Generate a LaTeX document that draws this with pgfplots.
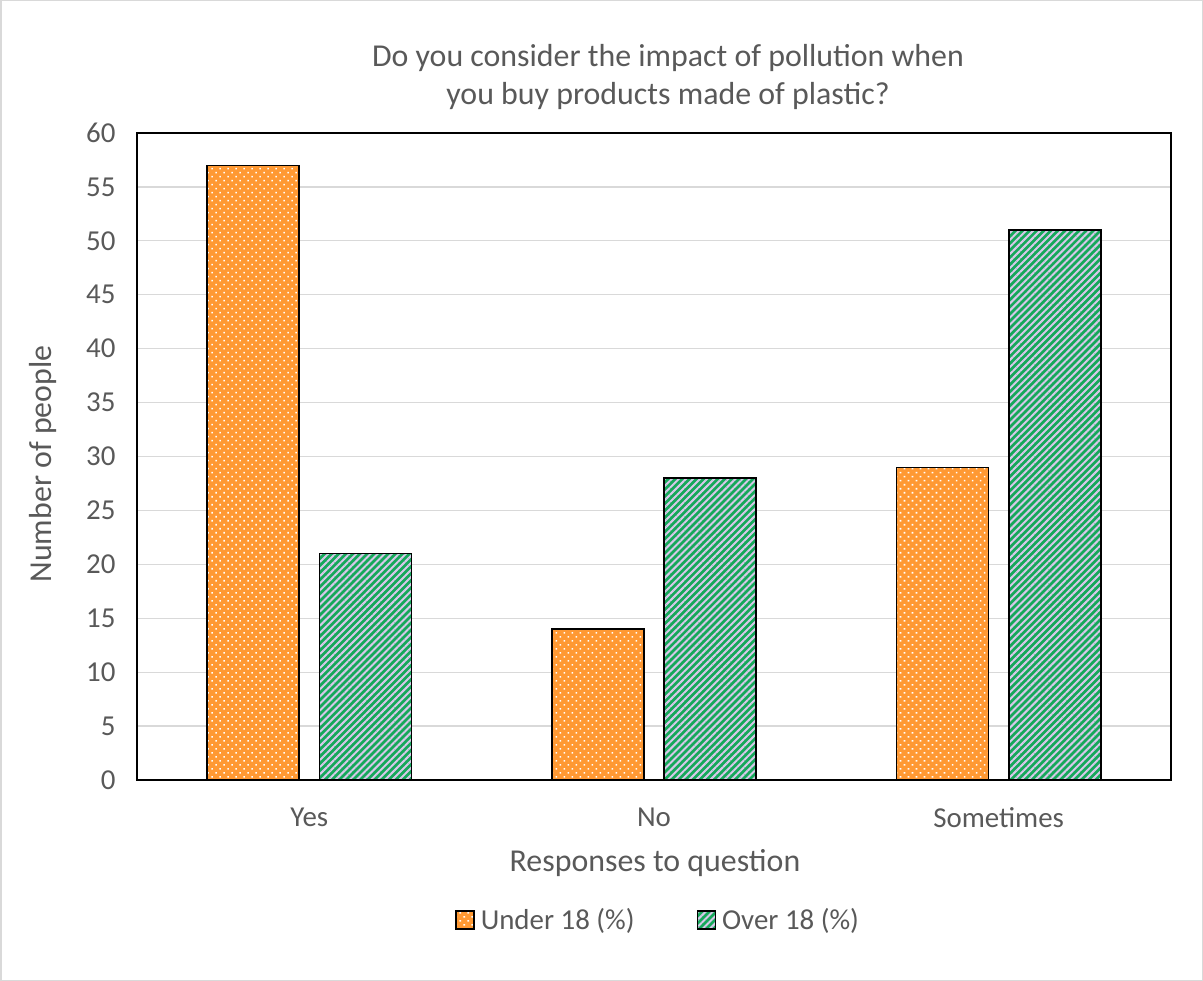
\documentclass[border=0pt]{standalone}
\usepackage{fontspec}
\setmainfont{Carlito}
\usepackage{pgfplots}
\pgfplotsset{compat=1.18}
\usetikzlibrary{patterns.meta}
\definecolor{txt}{HTML}{595959}
\definecolor{orng}{HTML}{FF9933}
\definecolor{grn}{HTML}{16A85A}
\definecolor{lav}{HTML}{D8C8EA}
\definecolor{grd}{HTML}{D9D9D9}
\begin{document}
\begin{tikzpicture}
\useasboundingbox (0,0) rectangle (1203bp,981bp);
\draw[grd, line width=1.5bp] (0.75bp,0.75bp) rectangle (1202.25bp,980.25bp);
\begin{axis}[
  at={(137bp,201bp)}, anchor=south west,
  scale only axis, width=1034bp, height=647bp,
  xmin=-0.5, xmax=2.5, ymin=0, ymax=60,
  ytick={0,5,...,60},
  xtick={0,1,2}, xticklabels={Yes,No,Sometimes},
  major tick length=0pt,
  ymajorgrids, grid style={grd, line width=1.2bp},
  axis line style={black, line width=1.2bp},
  tick label style={font=\fontsize{29}{34}\selectfont, text=txt},
  yticklabel style={xshift=-18bp},
  xticklabel style={yshift=-24bp},
  /pgf/number format/assume math mode=true,
  ybar, bar width=0.267,
  legend columns=2,
  legend style={at={(0.504,-0.216)}, anchor=center, draw=none, fill=none,
    font=\fontsize{29}{34}\selectfont, text=txt,
    /tikz/every odd column/.append style={column sep=4bp},
    /tikz/every even column/.append style={column sep=60bp}},
  legend image code/.code={\draw[#1] (0bp,-9bp) rectangle (18bp,9bp);},
]
\addplot[fill=orng, draw=black, line width=1.5bp, bar shift=-0.163,
  postaction={pattern={Dots[radius=1.1bp, distance=5.66bp, angle=45]}, pattern color=white}]
  coordinates {(0,57) (1,14) (2,29)};
\addlegendentry{Under 18 (\%)}
\addplot[fill=grn, draw=black, line width=1.5bp, bar shift=0.163,
  postaction={pattern={Lines[angle=45, distance=5bp, line width=2bp]}, pattern color=lav}]
  coordinates {(0,21) (1,28) (2,51)};
\addlegendentry{Over 18 (\%)}
\end{axis}
\node[text=txt, font=\fontsize{32}{39}\selectfont, align=center] at (668bp,904bp)
  {Do you consider the impact of pollution when\\you buy products made of plastic?};
\node[text=txt, font=\fontsize{32}{39}\selectfont, rotate=90] at (43bp,517bp) {Number of people};
\node[text=txt, font=\fontsize{32}{39}\selectfont] at (655bp,118bp) {Responses to question};
\end{tikzpicture}
\end{document}
